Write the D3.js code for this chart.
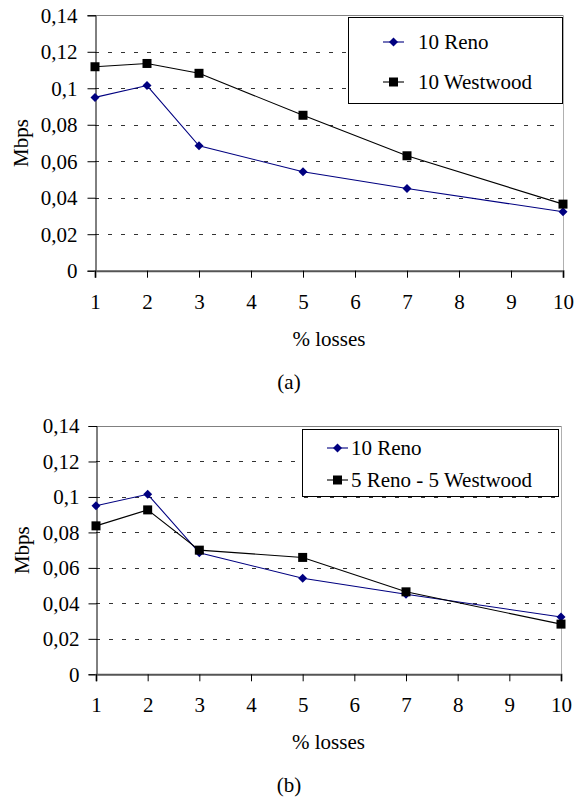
<!DOCTYPE html>
<html>
<head>
<meta charset="utf-8">
<script src="https://cdn.jsdelivr.net/npm/d3@7"></script>
<style>
  body { margin: 0; background: #fff; }
  svg { display: block; }
</style>
</head>
<body>
<svg id="chart" width="575" height="800"></svg>
<script>
// ---- data ----
var losses = [1, 2, 3, 5, 7, 10];
var xTicks = [1, 2, 3, 4, 5, 6, 7, 8, 9, 10];
var yTicks = [0, 0.02, 0.04, 0.06, 0.08, 0.1, 0.12, 0.14];

var reno10 = [0.095, 0.1015, 0.0685, 0.0542, 0.0451, 0.0323];
var westwood10 = [0.1118, 0.1136, 0.1082, 0.0852, 0.063, 0.0365];
var reno5west5 = [0.0837, 0.0927, 0.070, 0.0659, 0.0465, 0.0283];

var seriesA = ["10 Reno", "10 Westwood"];
var seriesB = ["10 Reno", "5 Reno - 5 Westwood"];

var svg = d3.select("#chart");

function fmt(v) {
  return v === 0 ? "0" : String(+v.toFixed(2)).replace(".", ",");
}

function txt(sel) {
  sel.style("font-family", "'Liberation Serif'")
     .style("font-size", "21px")
     .attr("fill", "#000");
}

// ---------------------------------------------------------------
//   one panel
// ---------------------------------------------------------------
function drawPanel(p) {
  var xScale = d3.scaleLinear().domain([1, 10]).range([p.left, p.right]);
  var yScale = d3.scaleLinear().domain([0, 0.14]).range([p.bottom, p.top]);

  var g = svg.append("g");

  // dashed grid
  g.selectAll(".grid")
    .data(yTicks.filter(function(d) { return d > 0 && d < 0.14; }))
    .enter().append("line")
      .attr("x1", p.left).attr("x2", p.right)
      .attr("y1", function(d) { return Math.round(yScale(d)) + 0.5; })
      .attr("y2", function(d) { return Math.round(yScale(d)) + 0.5; })
      .attr("stroke", "#333")
      .attr("stroke-dasharray", "4,9");

  // plot frame (top and right, grey)
  g.append("line")
    .attr("x1", p.left).attr("x2", p.right)
    .attr("y1", Math.round(p.top) + 0.5).attr("y2", Math.round(p.top) + 0.5)
    .attr("stroke", "#808080");
  g.append("line")
    .attr("x1", Math.round(p.right) + 0.5).attr("x2", Math.round(p.right) + 0.5)
    .attr("y1", p.top).attr("y2", p.bottom)
    .attr("stroke", "#b0b0b0");

  // y axis
  var yAxis = g.append("g")
    .attr("transform", "translate(" + (Math.round(p.left) + 0.5) + ",0)")
    .call(d3.axisLeft(yScale).tickValues(yTicks).tickFormat(fmt).tickSize(8).tickPadding(p.yPad));
  yAxis.attr("font-family", null).attr("font-size", null);
  yAxis.select(".domain").attr("stroke", "#000");
  yAxis.selectAll(".tick line").attr("stroke", "#000");
  yAxis.selectAll(".tick text").call(txt).attr("dy", "0.33em");

  // x axis
  var xAxis = g.append("g")
    .attr("transform", "translate(0," + p.bottom + ")")
    .call(d3.axisBottom(xScale).tickValues(xTicks).tickSizeOuter(0).tickSize(7).tickPadding(16));
  xAxis.attr("font-family", null).attr("font-size", null);
  xAxis.select(".domain").attr("stroke", "#555").attr("stroke-width", 2);
  xAxis.selectAll(".tick line").attr("stroke", "#000");
  xAxis.selectAll(".tick text").call(txt);

  // axis titles
  g.append("text")
    .attr("x", (p.left + p.right) / 2)
    .attr("y", p.bottom + 75)
    .attr("text-anchor", "middle")
    .call(txt)
    .text("% losses");

  g.append("text")
    .attr("transform", "translate(" + p.ylabelX + "," + ((p.top + p.bottom) / 2) + ") rotate(-90)")
    .attr("text-anchor", "middle")
    .call(txt)
    .text("Mbps");

  g.append("text")
    .attr("x", 289)
    .attr("y", p.bottom + 118)
    .attr("text-anchor", "middle")
    .call(txt)
    .text(p.caption);

  var line = d3.line()
    .x(function(d, i) { return xScale(losses[i]); })
    .y(function(d) { return yScale(d); });

  // series
  p.series.forEach(function(s) {
    g.append("path")
      .datum(s.values)
      .attr("fill", "none")
      .attr("stroke", s.color)
      .attr("stroke-width", 1.1)
      .attr("d", line);

    g.selectAll(null)
      .data(s.values)
      .enter().append("path")
        .attr("transform", function(d, i) {
          return "translate(" + xScale(losses[i]) + "," + yScale(d) + ")";
        })
        .attr("d", s.marker)
        .attr("fill", s.color);
  });

  // legend
  var lg = g.append("g");
  lg.append("rect")
    .attr("x", p.legend.x + 0.5).attr("y", p.legend.y + 0.5)
    .attr("width", p.legend.w).attr("height", p.legend.h)
    .attr("fill", "#fff").attr("stroke", "#000");

  p.series.forEach(function(s, i) {
    var cy = p.legend.y + p.legend.rows[i];
    var lx = p.legend.x + p.legend.lineX;
    lg.append("line")
      .attr("x1", lx).attr("x2", lx + 21)
      .attr("y1", cy).attr("y2", cy)
      .attr("stroke", s.color).attr("stroke-width", 1.1);
    lg.append("path")
      .attr("transform", "translate(" + (lx + 10.5) + "," + cy + ")")
      .attr("d", s.marker)
      .attr("fill", s.color);
    lg.append("text")
      .attr("x", lx + p.legend.textX)
      .attr("y", cy + 7)
      .call(txt)
      .text(s.name);
  });
}

var diamond = "M0,-4.5L4.5,0L0,4.5L-4.5,0Z";
var square = "M-4.5,-4.5H4.5V4.5H-4.5Z";

drawPanel({
  left: 95, right: 563, top: 15.3, bottom: 270.7,
  ylabelX: 28, yPad: 10, caption: "(a)",
  series: [
    { name: seriesA[0], values: reno10, color: "#000080", marker: diamond },
    { name: seriesA[1], values: westwood10, color: "#000", marker: square }
  ],
  legend: { x: 348, y: 17, w: 214, h: 86, lineX: 35, textX: 35, rows: [25, 65] }
});

drawPanel({
  left: 96, right: 561, top: 426, bottom: 674.3,
  ylabelX: 29, yPad: 9, caption: "(b)",
  series: [
    { name: seriesB[0], values: reno10, color: "#000080", marker: diamond },
    { name: seriesB[1], values: reno5west5, color: "#000", marker: square }
  ],
  legend: { x: 302, y: 429, w: 256, h: 67, lineX: 25, textX: 24, rows: [19, 51] }
});
</script>
</body>
</html>
